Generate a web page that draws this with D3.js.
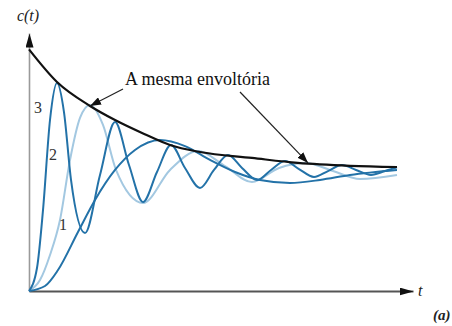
<!DOCTYPE html>
<html>
<head>
<meta charset="utf-8">
<script src="https://cdn.jsdelivr.net/npm/d3@7"></script>
<style>
  html, body { margin: 0; padding: 0; background: #fff; }
  svg { display: block; }
</style>
</head>
<body>
<svg id="chart" width="452" height="326"></svg>
<script>
// ---- data ----
const envT = [0, 0.729, 1.589, 2.24, 3.0, 3.672, 4.453, 5.807, 7.0, 8.36, 9.583];
const envC = [2.03, 1.756, 1.555, 1.437, 1.32, 1.227, 1.168, 1.118, 1.076, 1.052, 1.042];

const c3T = [0, 0.208, 0.365, 0.547, 0.729, 0.911, 1.094, 1.458, 1.849, 2.24, 2.604, 2.969, 3.333, 3.698, 4.063, 4.453, 4.818, 5.182, 5.547, 5.938, 6.302, 6.667, 7.031, 7.422, 7.786, 8.151, 8.516, 8.906, 9.271, 9.583];
const c3C = [0, 0.193, 0.681, 1.437, 1.748, 1.504, 0.933, 0.487, 0.975, 1.42, 1.059, 0.748, 1.0, 1.227, 1.034, 0.866, 1.017, 1.143, 1.034, 0.933, 1.017, 1.092, 1.025, 0.958, 1.008, 1.059, 1.017, 0.975, 1.008, 1.04];

const c2T = [0, 0.286, 0.547, 0.807, 1.068, 1.328, 1.589, 1.927, 2.266, 2.969, 3.672, 4.401, 5.104, 5.807, 6.51, 7.214, 7.917, 8.62, 9.583];
const c2C = [0, 0.092, 0.303, 0.597, 1.101, 1.454, 1.563, 1.395, 1.017, 0.739, 1.017, 1.176, 1.05, 0.916, 1.034, 1.076, 1.008, 0.941, 0.975];

const c1T = [0, 0.417, 0.755, 1.276, 1.719, 2.24, 2.76, 3.411, 4.063, 4.714, 5.365, 6.016, 6.797, 7.578, 8.359, 9.583];
const c1C = [0, 0.042, 0.176, 0.496, 0.765, 1.017, 1.185, 1.269, 1.218, 1.101, 1.0, 0.933, 0.908, 0.933, 0.975, 1.017];

const curveLabels = ["1", "2", "3"];
const labelT = [0.886, 0.625, 0.234];
const labelC = [0.51, 1.105, 1.5];

const titleText = "A mesma envoltória";

// ---- layout ----
const FONT = "'Liberation Serif', 'Times New Roman', 'DejaVu Serif', serif";
const svg = d3.select("#chart");
const x = d3.scaleLinear().domain([0, 10]).range([29, 413]);
const y = d3.scaleLinear().domain([0, 2]).range([291, 53]);

const defs = svg.append("defs");
function marker(id, color, w, h) {
  defs.append("marker")
    .attr("id", id)
    .attr("viewBox", `0 0 ${w} ${h}`)
    .attr("refX", w).attr("refY", h / 2)
    .attr("markerWidth", w).attr("markerHeight", h)
    .attr("markerUnits", "userSpaceOnUse")
    .attr("orient", "auto")
    .append("path")
    .attr("d", `M0,0L${w},${h / 2}L0,${h}Z`)
    .attr("fill", color);
}
marker("axArrow", "#111", 14, 8);
marker("annArrow", "#111", 11, 8);

// axes (no ticks)
const xAxisG = svg.append("g")
  .attr("transform", `translate(0,${y(0)})`)
  .call(d3.axisBottom(x).tickValues([]).tickSizeOuter(0));
xAxisG.select(".domain").attr("stroke", "#555").attr("stroke-width", 2)
  .attr("marker-end", "url(#axArrow)");

const yAx = d3.scaleLinear().domain([0, 2.13]).range([291, 33]);
const yAxisG = svg.append("g")
  .attr("transform", `translate(${x(0)},0)`)
  .call(d3.axisLeft(yAx).tickValues([]).tickSizeOuter(0));
yAxisG.select(".domain").attr("stroke", "#9a9a9a").attr("stroke-width", 1.6)
  .attr("marker-end", "url(#axArrow)");

// curves
const line = d3.line().x(d => x(d[0])).y(d => y(d[1])).curve(d3.curveMonotoneX);
const zip = (a, b) => a.map((v, i) => [v, b[i]]);

const series = [
  { t: c2T, c: c2C, color: "#a3c8e1", w: 2 },
  { t: c1T, c: c1C, color: "#2372a8", w: 2 },
  { t: c3T, c: c3C, color: "#2372a8", w: 2 },
];
svg.append("g").selectAll("path").data(series).join("path")
  .attr("d", s => line(zip(s.t, s.c)))
  .attr("fill", "none")
  .attr("stroke", s => s.color)
  .attr("stroke-width", s => s.w)
  .attr("stroke-linejoin", "round");

// envelope
svg.append("path")
  .attr("d", line(zip(envT, envC)))
  .attr("fill", "none").attr("stroke", "#111").attr("stroke-width", 2.2);

// curve number labels
svg.append("g").selectAll("text").data(curveLabels).join("text")
  .attr("x", (d, i) => x(labelT[i]))
  .attr("y", (d, i) => y(labelC[i]))
  .attr("text-anchor", "middle")
  .attr("font-family", FONT)
  .attr("font-size", 16)
  .attr("fill", "#333")
  .text(d => d);

// annotation
svg.append("text")
  .attr("x", x(2.5)).attr("y", y(1.731))
  .attr("font-family", FONT)
  .attr("font-size", 18).attr("fill", "#111")
  .text(titleText);

const arrows = [
  { from: [2.448, 1.697], to: [1.589, 1.555] },
  { from: [5.495, 1.672], to: [7.266, 1.076] },
];
svg.append("g").selectAll("line").data(arrows).join("line")
  .attr("x1", d => x(d.from[0])).attr("y1", d => y(d.from[1]))
  .attr("x2", d => x(d.to[0])).attr("y2", d => y(d.to[1]))
  .attr("stroke", "#222").attr("stroke-width", 1.2)
  .attr("marker-end", "url(#annArrow)");

// axis labels
svg.append("text").attr("x", 28).attr("y", 21)
  .attr("text-anchor", "middle").attr("font-family", FONT)
  .attr("font-size", 16).attr("font-style", "italic")
  .attr("fill", "#222").text("c(t)");
svg.append("text").attr("x", 418).attr("y", 296)
  .attr("font-family", FONT)
  .attr("font-size", 16).attr("font-style", "italic").attr("fill", "#222").text("t");
svg.append("text").attr("x", 433).attr("y", 320)
  .attr("font-family", FONT)
  .attr("font-size", 15).attr("font-style", "italic").attr("font-weight", "bold")
  .attr("fill", "#222").text("(a)");
</script>
</body>
</html>
